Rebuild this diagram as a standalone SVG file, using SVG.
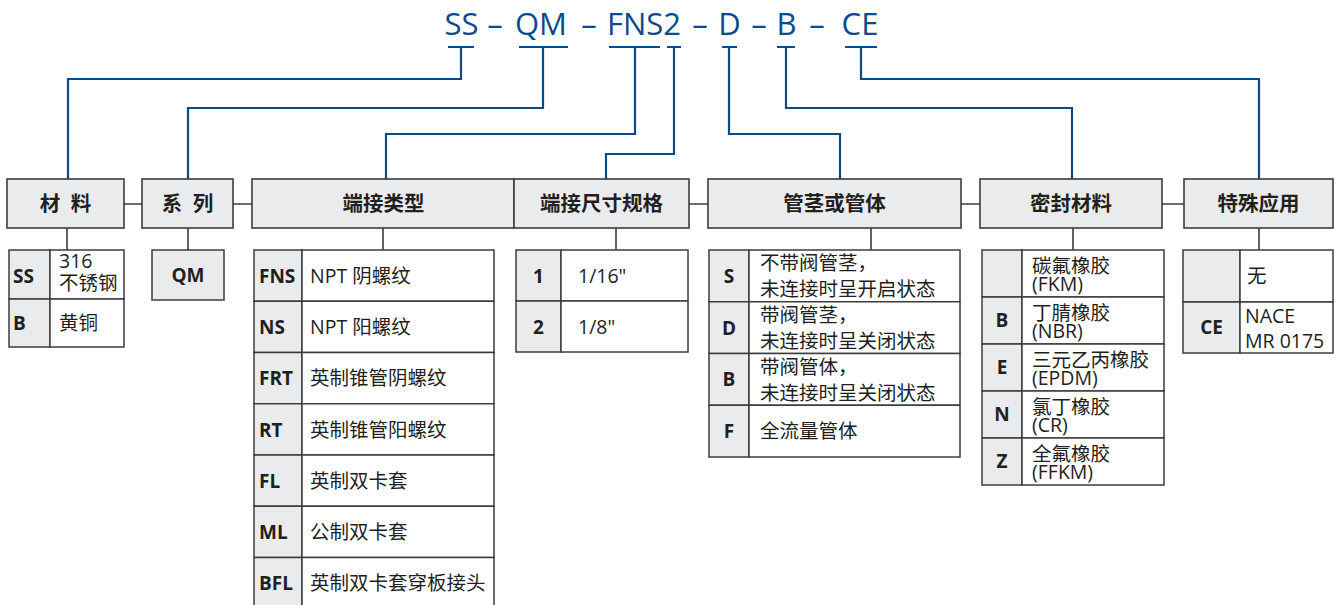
<svg xmlns="http://www.w3.org/2000/svg" width="1339" height="605" viewBox="0 0 1339 605">
<style>
text{font-family:"Open Sans","Noto Sans CJK SC","Noto Sans",sans-serif;fill:#231f20}
.code{font-size:31px;fill:#0d4a8c;text-anchor:middle}
.hd{font-size:20.5px;font-weight:bold;text-anchor:middle}
.k{font-size:19px;font-weight:bold}
.kc{font-size:19px;font-weight:bold;text-anchor:middle}
.t{font-size:19.5px}
.hbox{fill:#eaebed;stroke:#3c3c3c;stroke-width:1.6}
.cell{fill:#fff;stroke:#3c3c3c;stroke-width:1.5}
.kcell{fill:#eaebed;stroke:#3c3c3c;stroke-width:1.5}
.blue{fill:none;stroke:#0d4a8c;stroke-width:2.2}
.gray{fill:none;stroke:#3c3c3c;stroke-width:1.6}
</style>

<g id="code">
<text class="code" x="461.5" y="35">SS</text>
<text class="code" x="495" y="35">–</text>
<text class="code" x="541" y="35">QM</text>
<text class="code" x="589" y="35">–</text>
<text class="code" x="644" y="35">FNS2</text>
<text class="code" x="700" y="35">–</text>
<text class="code" x="729.5" y="35">D</text>
<text class="code" x="759" y="35">–</text>
<text class="code" x="786.5" y="35">B</text>
<text class="code" x="817" y="35">–</text>
<text class="code" x="860" y="35">CE</text>
</g>

<g id="connectors">
<path class="blue" d="M448 47H474M461 47V79H68V179"/>
<path class="blue" d="M519 47H568M543 47V108H188V179"/>
<path class="blue" d="M609 47H660M635 47V134H386V179"/>
<path class="blue" d="M667 47H681M674 47V154H606V179"/>
<path class="blue" d="M722 47H737M729 47V134H840V179"/>
<path class="blue" d="M777 47H795M786 47V108H1072V179"/>
<path class="blue" d="M845 47H877M861 47V79H1259V179"/>
<path class="gray" d="M124 204H142M233 204H252M689 204H708M961 204H980M1162 204H1184"/>
<path class="gray" d="M67 228V250M188 228V250M383 228V250M616 228V250M871 228V250M1073 228V250M1259 228V250"/>
</g>

<g id="h-material"><rect class="hbox" x="7" y="179" width="117" height="49"/><text class="hd" x="65.5" y="211">材&#160;&#160;料</text></g>
<g id="h-series"><rect class="hbox" x="142" y="179" width="91" height="49"/><text class="hd" x="187.5" y="211">系&#160;&#160;列</text></g>
<g id="h-endtype"><rect class="hbox" x="252" y="179" width="262" height="49"/><text class="hd" x="383.5" y="211">端接类型</text></g>
<g id="h-endsize"><rect class="hbox" x="514" y="179" width="175" height="49"/><text class="hd" x="601.5" y="211">端接尺寸规格</text></g>
<g id="h-stem"><rect class="hbox" x="708" y="179" width="253" height="49"/><text class="hd" x="834.5" y="211">管茎或管体</text></g>
<g id="h-seal"><rect class="hbox" x="980" y="179" width="182" height="49"/><text class="hd" x="1071" y="211">密封材料</text></g>
<g id="h-special"><rect class="hbox" x="1184" y="179" width="149" height="49"/><text class="hd" x="1258.5" y="211">特殊应用</text></g>

<g id="t-material">
<rect class="kcell" x="9" y="250" width="41" height="49"/><rect class="cell" x="50" y="250" width="74" height="49"/>
<rect class="kcell" x="9" y="299" width="41" height="48"/><rect class="cell" x="50" y="299" width="74" height="48"/>
<text class="k" x="13" y="283">SS</text><text class="t" x="59" y="268">316</text><text class="t" x="59" y="290">不锈钢</text>
<text class="k" x="13" y="330">B</text><text class="t" x="59" y="330">黄铜</text>
</g>

<g id="t-series">
<rect class="kcell" x="152" y="250" width="72" height="50"/><text class="kc" x="188" y="282">QM</text>
</g>

<g id="t-endtype">
<rect class="kcell" x="254" y="250" width="48" height="51.25"/><rect class="cell" x="302" y="250" width="192" height="51.25"/>
<rect class="kcell" x="254" y="301.25" width="48" height="51.25"/><rect class="cell" x="302" y="301.25" width="192" height="51.25"/>
<rect class="kcell" x="254" y="352.5" width="48" height="51.25"/><rect class="cell" x="302" y="352.5" width="192" height="51.25"/>
<rect class="kcell" x="254" y="403.75" width="48" height="51.25"/><rect class="cell" x="302" y="403.75" width="192" height="51.25"/>
<rect class="kcell" x="254" y="455" width="48" height="51.25"/><rect class="cell" x="302" y="455" width="192" height="51.25"/>
<rect class="kcell" x="254" y="506.25" width="48" height="51.25"/><rect class="cell" x="302" y="506.25" width="192" height="51.25"/>
<rect class="kcell" x="254" y="557.5" width="48" height="51.25"/><rect class="cell" x="302" y="557.5" width="192" height="51.25"/>
<text class="k" x="259" y="283">FNS</text><text class="t" x="310" y="283">NPT 阴螺纹</text>
<text class="k" x="259" y="334">NS</text><text class="t" x="310" y="334">NPT 阳螺纹</text>
<text class="k" x="259" y="385">FRT</text><text class="t" x="310" y="385">英制锥管阴螺纹</text>
<text class="k" x="259" y="436.5">RT</text><text class="t" x="310" y="436.5">英制锥管阳螺纹</text>
<text class="k" x="259" y="488">FL</text><text class="t" x="310" y="488">英制双卡套</text>
<text class="k" x="259" y="539">ML</text><text class="t" x="310" y="539">公制双卡套</text>
<text class="k" x="259" y="590">BFL</text><text class="t" x="310" y="590">英制双卡套穿板接头</text>
</g>

<g id="t-endsize">
<rect class="kcell" x="516" y="250" width="45" height="51"/><rect class="cell" x="561" y="250" width="127" height="51"/>
<rect class="kcell" x="516" y="301" width="45" height="51"/><rect class="cell" x="561" y="301" width="127" height="51"/>
<text class="kc" x="538.5" y="283">1</text><text class="t" x="578" y="283">1/16"</text>
<text class="kc" x="538.5" y="334">2</text><text class="t" x="578" y="334">1/8"</text>
</g>

<g id="t-stem">
<rect class="kcell" x="709" y="250" width="40" height="51.75"/><rect class="cell" x="749" y="250" width="211" height="51.75"/>
<rect class="kcell" x="709" y="301.75" width="40" height="51.75"/><rect class="cell" x="749" y="301.75" width="211" height="51.75"/>
<rect class="kcell" x="709" y="353.5" width="40" height="51.75"/><rect class="cell" x="749" y="353.5" width="211" height="51.75"/>
<rect class="kcell" x="709" y="405.25" width="40" height="51.75"/><rect class="cell" x="749" y="405.25" width="211" height="51.75"/>
<text class="kc" x="729" y="283">S</text><text class="t" x="760" y="270">不带阀管茎，</text><text class="t" x="760" y="296">未连接时呈开启状态</text>
<text class="kc" x="729" y="334.5">D</text><text class="t" x="760" y="322">带阀管茎，</text><text class="t" x="760" y="348">未连接时呈关闭状态</text>
<text class="kc" x="729" y="386">B</text><text class="t" x="760" y="373.5">带阀管体，</text><text class="t" x="760" y="399.5">未连接时呈关闭状态</text>
<text class="kc" x="729" y="438">F</text><text class="t" x="760" y="438">全流量管体</text>
</g>

<g id="t-seal">
<rect class="kcell" x="982" y="250" width="40" height="47"/><rect class="cell" x="1022" y="250" width="142" height="47"/>
<rect class="kcell" x="982" y="297" width="40" height="47"/><rect class="cell" x="1022" y="297" width="142" height="47"/>
<rect class="kcell" x="982" y="344" width="40" height="47"/><rect class="cell" x="1022" y="344" width="142" height="47"/>
<rect class="kcell" x="982" y="391" width="40" height="47"/><rect class="cell" x="1022" y="391" width="142" height="47"/>
<rect class="kcell" x="982" y="438" width="40" height="47"/><rect class="cell" x="1022" y="438" width="142" height="47"/>
<text class="t" x="1032" y="273">碳氟橡胶</text><text class="t" x="1032" y="291">(FKM)</text>
<text class="kc" x="1002" y="327">B</text><text class="t" x="1032" y="320">丁腈橡胶</text><text class="t" x="1032" y="338">(NBR)</text>
<text class="kc" x="1002" y="374">E</text><text class="t" x="1032" y="367">三元乙丙橡胶</text><text class="t" x="1032" y="385">(EPDM)</text>
<text class="kc" x="1002" y="421">N</text><text class="t" x="1032" y="414">氯丁橡胶</text><text class="t" x="1032" y="432">(CR)</text>
<text class="kc" x="1002" y="468">Z</text><text class="t" x="1032" y="461">全氟橡胶</text><text class="t" x="1032" y="479">(FFKM)</text>
</g>

<g id="t-special">
<rect class="kcell" x="1183" y="250" width="57" height="52"/><rect class="cell" x="1240" y="250" width="93" height="52"/>
<rect class="kcell" x="1183" y="302" width="57" height="51"/><rect class="cell" x="1240" y="302" width="93" height="51"/>
<text class="t" x="1247" y="283">无</text>
<text class="kc" x="1211.5" y="334">CE</text><text class="t" x="1245" y="323">NACE</text><text class="t" x="1245" y="348">MR 0175</text>
</g>
</svg>
